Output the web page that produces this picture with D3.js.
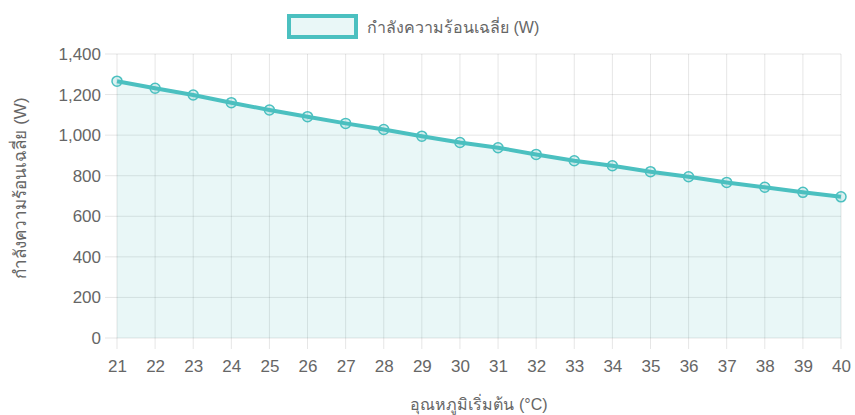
<!DOCTYPE html>
<html>
<head>
<meta charset="utf-8">
<script src="https://cdn.jsdelivr.net/npm/d3@7"></script>
<style>
  body { margin: 0; background: #fff; }
  svg { display: block; font-family: "Liberation Sans", Arial, "Noto Sans", sans-serif; }
</style>
</head>
<body>
<svg id="chart" width="855" height="415"></svg>
<script>
var temps = [21, 22, 23, 24, 25, 26, 27, 28, 29, 30, 31, 32, 33, 34, 35, 36, 37, 38, 39, 40];
var power = [1266, 1231, 1198, 1160, 1124, 1091, 1058, 1028, 995, 964, 938, 905, 874, 849, 820, 795, 767, 743, 718, 696];
var yTicks = [0, 200, 400, 600, 800, 1000, 1200, 1400];
var seriesName = 'กำลังความร้อนเฉลี่ย (W)';
var xTitle = 'อุณหภูมิเริ่มต้น (°C)';
var yTitle = 'กำลังความร้อนเฉลี่ย (W)';

(function(d3) {
  var svg = d3.select('#chart'),
      pLeft = 117, pRight = 841, pTop = 54, pBottom = 338,
      teal = 'rgb(75,192,192)',
      grid = 'rgba(0,0,0,0.1)',
      txt = '#666';

  var x = d3.scalePoint().domain(temps).range([pLeft, pRight]),
      y = d3.scaleLinear().domain([0, 1400]).range([pBottom, pTop]);

  // grid
  var g = svg.append('g');
  g.selectAll('.hg').data(yTicks).enter().append('line')
    .attr('x1', pLeft - 12).attr('x2', pRight)
    .attr('y1', function(d) { return y(d); }).attr('y2', function(d) { return y(d); })
    .attr('stroke', grid).attr('stroke-width', 1);
  g.selectAll('.vg').data(temps).enter().append('line')
    .attr('x1', function(d) { return x(d); }).attr('x2', function(d) { return x(d); })
    .attr('y1', pTop).attr('y2', pBottom + 11)
    .attr('stroke', grid).attr('stroke-width', 1);

  // axis labels
  var yAxis = d3.axisLeft(y).tickValues(yTicks).tickSize(0).tickPadding(16)
    .tickFormat(d3.format(','));
  svg.append('g').attr('transform', 'translate(' + pLeft + ',0)').call(yAxis)
    .call(function(s) { s.select('.domain').remove(); })
    .selectAll('text').attr('fill', txt).style('font-size', '17px');

  var xAxis = d3.axisBottom(x).tickSize(0).tickPadding(22);
  svg.append('g').attr('transform', 'translate(0,' + pBottom + ')').call(xAxis)
    .call(function(s) { s.select('.domain').remove(); })
    .selectAll('text').attr('fill', txt).style('font-size', '17px');

  // area + line
  var data = temps.map(function(t, i) { return { t: t, v: power[i] }; });
  svg.append('path').datum(data)
    .attr('d', d3.area().x(function(d) { return x(d.t); }).y0(y(0)).y1(function(d) { return y(d.v); }))
    .attr('fill', 'rgba(75,192,192,0.12)');
  svg.append('path').datum(data)
    .attr('d', d3.line().x(function(d) { return x(d.t); }).y(function(d) { return y(d.v); }))
    .attr('fill', 'none').attr('stroke', teal).attr('stroke-width', 4);
  svg.selectAll('circle').data(data).enter().append('circle')
    .attr('cx', function(d) { return x(d.t); })
    .attr('cy', function(d) { return y(d.v); })
    .attr('r', 5)
    .attr('fill', 'rgba(75,192,192,0.2)')
    .attr('stroke', teal).attr('stroke-width', 1.5);

  // legend
  svg.append('rect').attr('x', 289).attr('y', 16).attr('width', 67).attr('height', 21)
    .attr('fill', 'rgba(75,192,192,0.12)').attr('stroke', teal).attr('stroke-width', 4);
  svg.append('text').attr('x', 367).attr('y', 33).attr('fill', txt)
    .style('font-size', '16px').text(seriesName);

  // titles
  svg.append('text').attr('x', 479).attr('y', 410).attr('text-anchor', 'middle')
    .attr('fill', txt).style('font-size', '16px').text(xTitle);
  svg.append('text').attr('transform', 'translate(26,188) rotate(-90)').attr('text-anchor', 'middle')
    .attr('fill', txt).style('font-size', '17px').text(yTitle);
})(d3);
</script>
</body>
</html>
